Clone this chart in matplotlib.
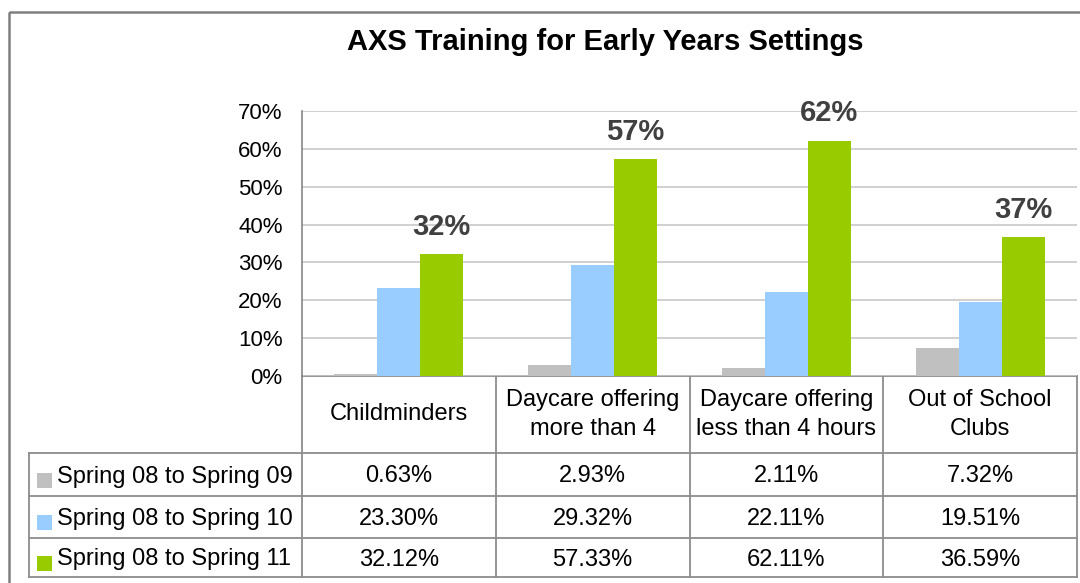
import matplotlib.pyplot as plt
import numpy as np
from matplotlib.lines import Line2D
from matplotlib.patches import Rectangle
from matplotlib.ticker import PercentFormatter

plt.rcParams["font.family"] = ["Liberation Sans", "DejaVu Sans"]

# %% data
categories = ["Childminders", "Daycare offering\nmore than 4",
              "Daycare offering\nless than 4 hours", "Out of School\nClubs"]
series = ["Spring 08 to Spring 09", "Spring 08 to Spring 10", "Spring 08 to Spring 11"]
spring09 = [0.63, 2.93, 2.11, 7.32]
spring10 = [23.30, 29.32, 22.11, 19.51]
spring11 = [32.12, 57.33, 62.11, 36.59]
colors = ["#C0C0C0", "#99CCFF", "#99CC00"]
values = [spring09, spring10, spring11]

W, H = 1080, 583
fig = plt.figure(figsize=(W / 100, H / 100), dpi=100)

# pixel-space overlay for frame and table
ov = fig.add_axes([0, 0, 1, 1])
ov.set_xlim(0, W)
ov.set_ylim(H, 0)
ov.axis("off")

# plot area (pixel boundaries)
px_left, px_right, px_top, px_bottom = 302, 1077, 111, 376
ax = fig.add_axes([px_left / W, 1 - px_bottom / H,
                   (px_right - px_left) / W, (px_bottom - px_top) / H])

x = np.arange(len(categories))
bw = 0.222
for i, (vals, c) in enumerate(zip(values, colors)):
    ax.bar(x + (i - 1) * bw, vals, width=bw, color=c, zorder=3)

# labels on the last series
for xi, v in zip(x + bw, spring11):
    ax.annotate(f"{v:.0f}%", (xi, v), xytext=(0, 14), textcoords="offset points",
                ha="center", va="baseline", fontsize=21, fontweight="bold", color="#404040")

ax.set_xlim(-0.5, len(categories) - 0.5)
ax.set_ylim(0, 70)
ax.set_yticks(np.arange(0, 71, 10))
ax.yaxis.set_major_formatter(PercentFormatter(decimals=0))
ax.tick_params(axis="y", length=0, pad=14, labelsize=16)
ax.set_xticks([])
ax.grid(axis="y", color="#C8C8C8", linewidth=1.2, zorder=0)
for s in ["top", "right", "bottom"]:
    ax.spines[s].set_visible(False)
ax.spines["left"].set_color("#868686")
ax.spines["left"].set_linewidth(1.2)
ax.set_facecolor("none")

# title
ov.text(605, 42, "AXS Training for Early Years Settings", ha="center", va="center",
        fontsize=21, fontweight="bold")

# outer chart border
ov.add_patch(Rectangle((9, 12), W + 10, H, fill=False, edgecolor="#808080", linewidth=1.8))

# data table
col_edges = np.linspace(px_left, px_right, len(categories) + 1)
row_edges = [px_bottom, 453, 496, 538, 577]
tab_left = 29
lc = "#8C8C8C"
lw = 1.3
# header row (no left label cell)
ov.add_artist(Line2D([px_left, px_right], [px_bottom, px_bottom], color=lc, lw=lw))
for y in row_edges[1:]:
    ov.add_artist(Line2D([tab_left, px_right], [y, y], color=lc, lw=lw))
for xe in col_edges:
    ov.add_artist(Line2D([xe, xe], [px_bottom, row_edges[-1]], color=lc, lw=lw))
ov.add_artist(Line2D([tab_left, tab_left], [row_edges[1], row_edges[-1]], color=lc, lw=lw))

col_centers = (col_edges[:-1] + col_edges[1:]) / 2
hdr_y = (row_edges[0] + row_edges[1]) / 2
for cx, cat in zip(col_centers, categories):
    ov.text(cx, hdr_y, cat, ha="center", va="center", fontsize=17, linespacing=1.45)

for r, (name, vals, c) in enumerate(zip(series, values, colors)):
    cy = (row_edges[r + 1] + row_edges[r + 2]) / 2
    ov.add_patch(Rectangle((37, cy - 2), 15, 15, color=c, lw=0))
    ov.text(57, cy + 2, name, ha="left", va="center", fontsize=17)
    for cx, v in zip(col_centers, vals):
        ov.text(cx, cy + 2, f"{v:.2f}%", ha="center", va="center", fontsize=17)

fig.savefig("out.png", dpi=100, facecolor="white")
